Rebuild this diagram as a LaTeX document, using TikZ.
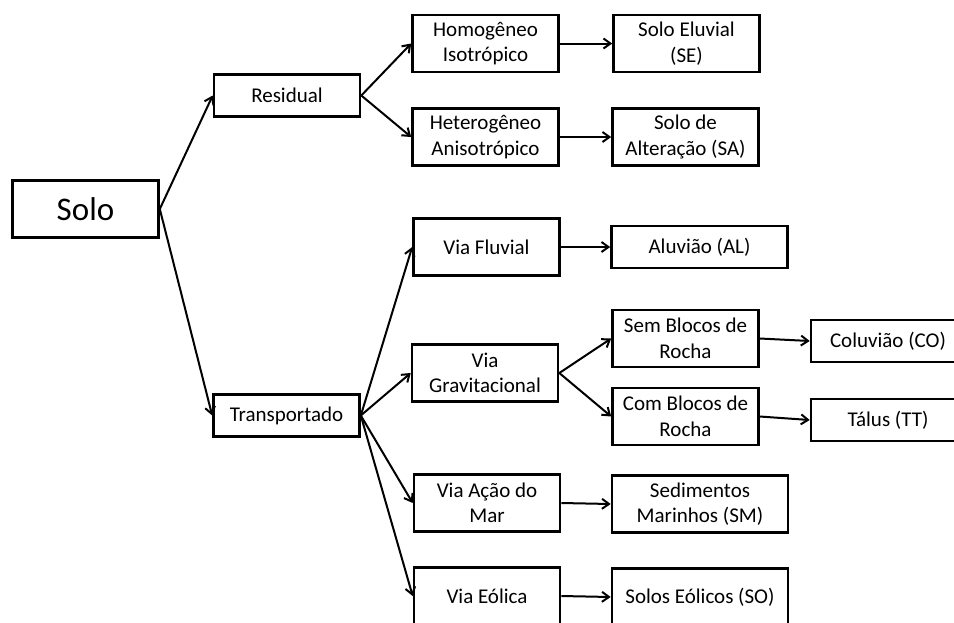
\documentclass[tikz,border=0pt]{standalone}
\usepackage{fontspec}
\setmainfont{Carlito}
\usetikzlibrary{arrows.meta}
\tikzset{
  caixa/.style={draw,line width=2.6pt,align=center,inner sep=0pt,
    minimum width=146pt,minimum height=57pt,
    font=\fontsize{21}{25.5}\selectfont},
  larga/.style={minimum width=176pt},
  baixa/.style={minimum height=42pt},
  seta/.style={line width=2pt,-{Straight Barb[length=7pt,width=10pt]}}
}

\begin{document}
\begin{tikzpicture}[x=1pt,y=-1pt]
\useasboundingbox (0,0) rectangle (954,622);
\clip (0,0) rectangle (954,622);
% raiz e primeiro nivel
\node [caixa,font=\fontsize{33}{40}\selectfont] (solo) at (85.5,209) {Solo};
\node [caixa,baixa] (residual) at (287,95.5) {Residual};
\node [caixa,baixa] (transportado) at (286.5,415.5) {Transportado};
% segundo nivel
\node [caixa] (homogeneo) at (485.5,43.5) {Homogêneo\\Isotrópico};
\node [caixa] (heterogeneo) at (485.5,137) {Heterogêneo\\Anisotrópico};
\node [caixa] (fluvial) at (486.5,247) {Via Fluvial};
\node [caixa] (gravitacional) at (485,373) {Via\\Gravitacional};
\node [caixa] (mar) at (487,503) {Via Ação do\\Mar};
\node [caixa] (eolica) at (487,596) {Via Eólica};
% terceiro nivel
\node [caixa] (eluvial) at (686.5,43.5) {Solo Eluvial\\(SE)};
\node [caixa] (alteracao) at (685.5,137) {Solo de\\Alteração (SA)};
\node [caixa,larga,baixa] (aluviao) at (699.5,247) {Aluvião (AL)};
\node [caixa] (semblocos) at (685.5,338.5) {Sem Blocos de\\Rocha};
\node [caixa] (comblocos) at (685.5,416.5) {Com Blocos de\\Rocha};
\node [caixa,larga] (sedimentos) at (700,504) {Sedimentos\\Marinhos (SM)};
\node [caixa,larga] (eolicos) at (700,597) {Solos Eólicos (SO)};
% quarto nivel (cortado na margem direita)
\node [caixa,baixa,minimum width=154pt] (coluviao) at (888,341) {Coluvião (CO)};
\node [caixa,baixa,minimum width=154pt] (talus) at (888,420) {Tálus (TT)};

\draw [seta] (solo.east) -- (residual.west);
\draw [seta] (solo.east) -- (transportado.west);
\draw [seta] (residual.east) -- (homogeneo.west);
\draw [seta] (residual.east) -- (heterogeneo.west);
\draw [seta] (transportado.east) -- (fluvial.west);
\draw [seta] (transportado.east) -- (gravitacional.west);
\draw [seta] (transportado.east) -- (mar.west);
\draw [seta] (transportado.east) -- (eolica.west);
\draw [seta] (homogeneo.east) -- (eluvial.west);
\draw [seta] (heterogeneo.east) -- (alteracao.west);
\draw [seta] (fluvial.east) -- (aluviao.west);
\draw [seta] (gravitacional.east) -- (semblocos.west);
\draw [seta] (gravitacional.east) -- (comblocos.west);
\draw [seta] (mar.east) -- (sedimentos.west);
\draw [seta] (eolica.east) -- (eolicos.west);
\draw [seta] (semblocos.east) -- (coluviao.west);
\draw [seta] (comblocos.east) -- (talus.west);
\end{tikzpicture}
\end{document}
